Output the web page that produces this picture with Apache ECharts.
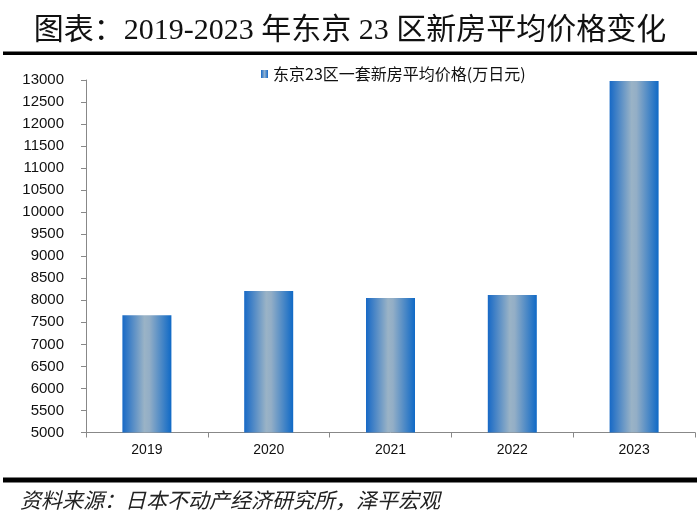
<!DOCTYPE html>
<html><head><meta charset="utf-8">
<script src="https://cdn.jsdelivr.net/npm/echarts@6/dist/echarts.min.js"></script>
<style>html,body{margin:0;padding:0;background:#fff}#c{width:700px;height:525px}</style>
</head><body><div id="c"></div>
<script>
const categories = ['2019', '2020', '2021', '2022', '2023'];
const prices = [7660, 8210, 8050, 8120, 12980];
const seriesName = '东京23区一套新房平均价格(万日元)';
const titleText = '图表：2019-2023 年东京 23 区新房平均价格变化';
const sourceText = '资料来源：日本不动产经济研究所，泽平宏观';

const chart = echarts.init(document.getElementById('c'));
const grad = new echarts.graphic.LinearGradient(0, 0, 1, 0, [
  {offset: 0, color: '#1769c6'},
  {offset: 0.45, color: '#9ab3c6'},
  {offset: 0.55, color: '#93aec6'},
  {offset: 1, color: '#0f69c6'}
]);
const iconGrad = new echarts.graphic.LinearGradient(0, 0, 1, 0, [
  {offset: 0, color: '#1769c6'},
  {offset: 0.5, color: '#8fb0d0'},
  {offset: 1, color: '#1769c6'}
]);
chart.setOption({
  animation: false,
  backgroundColor: '#fff',
  title: {
    text: titleText, left: 'center', top: 11,
    textStyle: {fontFamily: 'Liberation Serif, Noto Sans CJK SC', fontSize: 30, fontWeight: 'normal', color: '#111'}
  },
  legend: {
    left: 256, top: 61, itemWidth: 7, itemHeight: 8, itemGap: 4,
    icon: 'rect',
    textStyle: {fontFamily: 'Noto Sans CJK SC', fontSize: 16, color: '#111'},
    data: [{name: seriesName, itemStyle: {color: iconGrad}}]
  },
  grid: {left: 86, right: 5, top: 80, bottom: 92.5, containLabel: false},
  xAxis: {
    type: 'category', data: categories,
    axisLine: {lineStyle: {color: '#888', width: 1}},
    axisTick: {show: true, length: 5, lineStyle: {color: '#888'}},
    axisLabel: {color: '#111', fontFamily: 'Liberation Sans, Arial', fontSize: 14, margin: 11}
  },
  yAxis: {
    type: 'value', min: 5000, max: 13000, interval: 500,
    axisLine: {show: true, lineStyle: {color: '#888'}},
    axisTick: {show: true, length: 5, lineStyle: {color: '#888'}},
    splitLine: {show: false},
    axisLabel: {color: '#111', fontFamily: 'Liberation Sans, Arial', fontSize: 15, margin: 22,
      formatter: v => String(v)}
  },
  series: [{
    name: seriesName, type: 'bar', data: prices, barWidth: 49,
    itemStyle: {color: grad}
  }],
  graphic: [
    {type: 'rect', shape: {x: 3, y: 51.5, width: 694, height: 3.5}, style: {fill: '#000'}},
    {type: 'rect', shape: {x: 3, y: 477.5, width: 694, height: 5}, style: {fill: '#000'}},
    {type: 'text', left: 20, top: 490, style: {text: sourceText, font: 'italic 21px "Noto Sans CJK SC"', fill: '#222'}}
  ]
});
</script></body></html>
